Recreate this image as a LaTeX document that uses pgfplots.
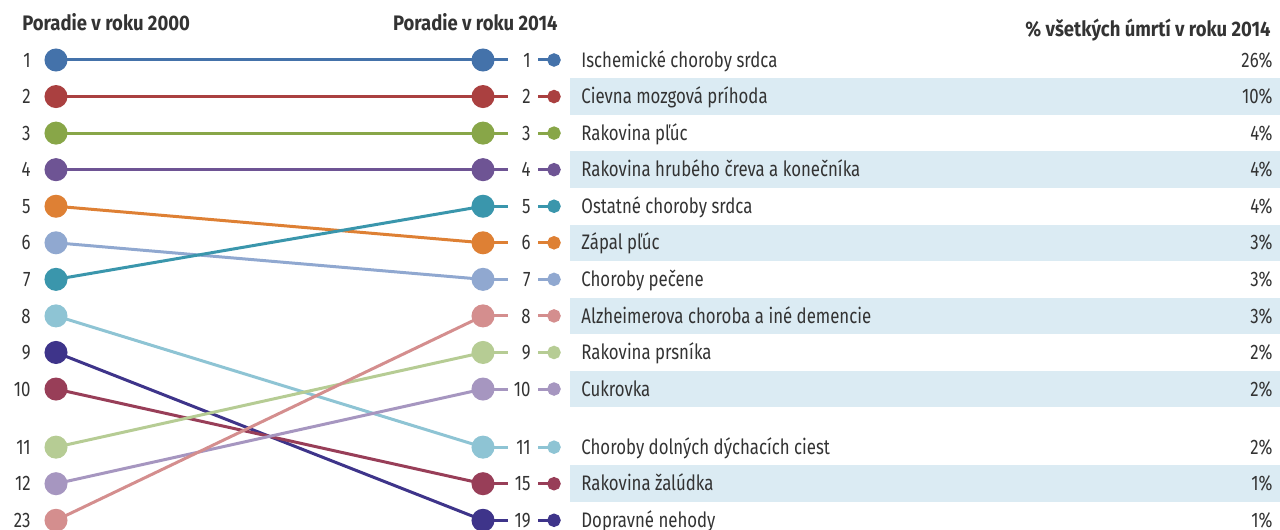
\documentclass[border=0pt]{standalone}
\usepackage{fontspec}
\setmainfont{Fira Sans}[FakeStretch=0.8, BoldFeatures={FakeStretch=0.88}]
\usepackage{pgfplots}
\pgfplotsset{compat=1.18}

\definecolor{txt}{RGB}{51,51,51}
\definecolor{band}{RGB}{219,235,243}
\definecolor{c1}{RGB}{68,114,170}
\definecolor{c2}{RGB}{170,64,64}
\definecolor{c3}{RGB}{136,166,72}
\definecolor{c4}{RGB}{110,84,148}
\definecolor{c5}{RGB}{58,150,172}
\definecolor{c6}{RGB}{222,128,52}
\definecolor{c7}{RGB}{144,168,208}
\definecolor{c8}{RGB}{212,142,142}
\definecolor{c9}{RGB}{182,204,148}
\definecolor{c10}{RGB}{166,150,192}
\definecolor{c11}{RGB}{142,196,212}
\definecolor{c12}{RGB}{152,62,88}
\definecolor{c13}{RGB}{62,52,138}

\tikzset{
  lab/.style={inner sep=0pt, font=\fontsize{10.5}{12}\selectfont, text=txt, yshift=-3.6pt},
  head/.style={inner sep=0pt, font=\fontsize{10.5}{12}\selectfont\bfseries, text=txt, yshift=-3.6pt},
}

% color, slot 2000, slot 2014, rank 2000, rank 2014, name, share
\newcommand{\rankrow}[7]{%
  \addplot[line width=1.5pt, color=#1, mark=*, mark size=5pt] coordinates {(56,#2)(483,#3)};
  \addplot[line width=1.5pt, color=#1] coordinates {(483,#3)(508,#3)};
  \addplot[line width=1.5pt, color=#1, mark=*, mark size=2.6pt, mark indices={2}] coordinates {(538,#3)(554,#3)};
  \node[lab, anchor=base east] at (axis cs:31,#2) {#4};
  \node[lab, anchor=base east] at (axis cs:531,#3) {#5};
  \node[lab, anchor=base west] at (axis cs:581,#3) {#6};
  \node[lab, anchor=base east] at (axis cs:1273,#3) {#7\%};
}

\begin{document}
\begin{tikzpicture}
\useasboundingbox (0,0) rectangle (640pt,265pt);
\clip (0,0) rectangle (640pt,265pt);
\begin{axis}[
    at={(0,0)}, anchor=south west,
    scale only axis, width=640pt, height=265pt,
    xmin=0, xmax=1280, ymin=-0.641, ymax=13.856,
    y dir=reverse, hide axis, clip=false,
]
% table bands
\fill[band] (axis cs:570,1.5) rectangle (axis cs:1280,2.5);
\fill[band] (axis cs:570,3.5) rectangle (axis cs:1280,4.5);
\fill[band] (axis cs:570,5.5) rectangle (axis cs:1280,6.5);
\fill[band] (axis cs:570,7.5) rectangle (axis cs:1280,8.5);
\fill[band] (axis cs:570,9.5) rectangle (axis cs:1280,10.5);
\fill[band] (axis cs:570,12.09) rectangle (axis cs:1280,13.09);

\node[head, anchor=base west] at (axis cs:22,0) {Poradie v roku 2000};
\node[head, anchor=base east] at (axis cs:558,0) {Poradie v roku 2014};
\node[head, anchor=base east] at (axis cs:1271,0.16) {\% všetkých úmrtí v roku 2014};

\rankrow{c13}{9}{13.59}{9}{19}{Dopravné nehody}{1}
\rankrow{c12}{10}{12.59}{10}{15}{Rakovina žalúdka}{1}
\rankrow{c11}{8}{11.59}{8}{11}{Choroby dolných dýchacích ciest}{2}
\rankrow{c10}{12.59}{10}{12}{10}{Cukrovka}{2}
\rankrow{c9}{11.59}{9}{11}{9}{Rakovina prsníka}{2}
\rankrow{c8}{13.59}{8}{23}{8}{Alzheimerova choroba a iné demencie}{3}
\rankrow{c7}{6}{7}{6}{7}{Choroby pečene}{3}
\rankrow{c6}{5}{6}{5}{6}{Zápal pľúc}{3}
\rankrow{c5}{7}{5}{7}{5}{Ostatné choroby srdca}{4}
\rankrow{c4}{4}{4}{4}{4}{Rakovina hrubého čreva a konečníka}{4}
\rankrow{c3}{3}{3}{3}{3}{Rakovina pľúc}{4}
\rankrow{c2}{2}{2}{2}{2}{Cievna mozgová príhoda}{10}
\rankrow{c1}{1}{1}{1}{1}{Ischemické choroby srdca}{26}
\end{axis}
\end{tikzpicture}
\end{document}
